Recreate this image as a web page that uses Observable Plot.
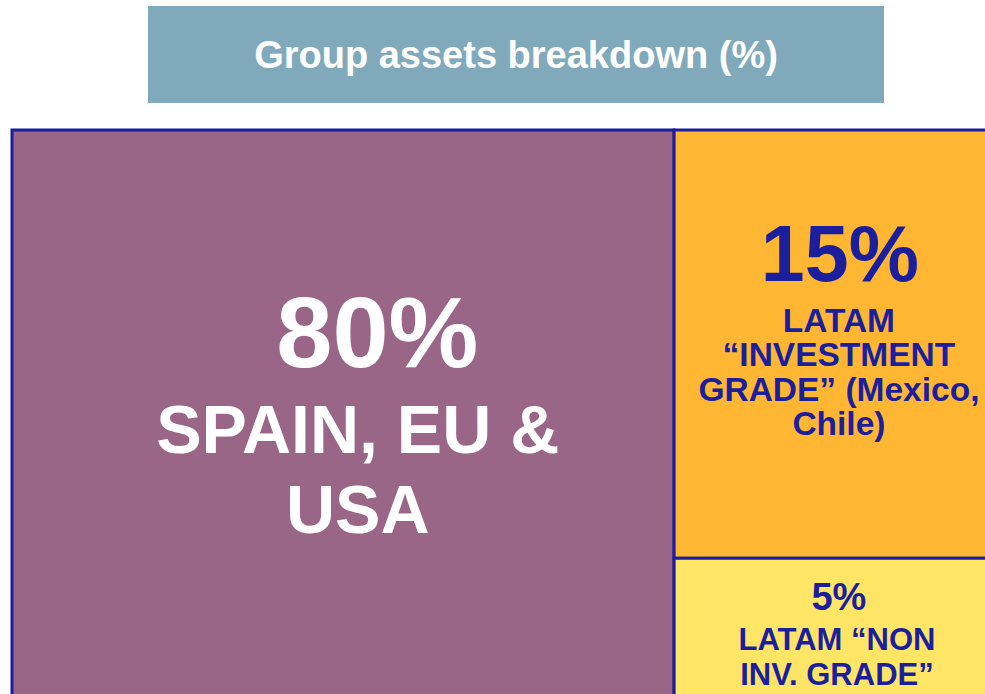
<!DOCTYPE html>
<html>
<head>
<meta charset="utf-8">
<script src="https://cdn.jsdelivr.net/npm/d3@7"></script>
<script src="https://cdn.jsdelivr.net/npm/@observablehq/plot@0.6"></script>
<style>
  html, body { margin: 0; padding: 0; background: #fff; overflow: hidden; width: 985px; height: 694px; }
  #title {
    margin: 6px 0 0 148px; width: 736px; height: 97px; line-height: 99px;
    background: #80AABC; color: #fff; text-align: center;
    font-family: "Liberation Sans", Arial, sans-serif; font-weight: bold; font-size: 38px;
  }
  #chart svg { display: block; overflow: visible; max-width: none !important; width: 1000px !important; height: 600px !important; }
</style>
</head>
<body>
<div id="title">Group assets breakdown (%)</div>
<div id="chart"></div>
<script>
// Segments and shares (%)
const segments = ["SPAIN, EU & USA", "LATAM \u201CINVESTMENT GRADE\u201D (Mexico, Chile)", "LATAM \u201CNON INV. GRADE\u201D"];
const shares = [80, 15, 5];
const colors = ["#996688", "#FFB733", "#FFE566"];
const textColors = ["#FFFFFF", "#1B1F9E", "#1B1F9E"];

// Tile layout in layout units (0-100 both axes)
const tileX1 = [0, 67.7, 67.7];
const tileX2 = [67.7, 100, 100];
const tileY1 = [0, 0, 75];
const tileY2 = [100, 75, 100];

// Label lines per segment
const pctLabels = shares.map(d => d + "%");
const nameLabels = ["SPAIN, EU &\nUSA", "LATAM\n\u201CINVESTMENT\nGRADE\u201D (Mexico,\nChile)", "LATAM \u201CNON\nINV. GRADE\u201D"];
// label anchors in layout units (baseline of last line)
const pctX = [37.3, 84.6, 84.5];
const pctY = [41.5, 26.4, 84.0];
const pctSize = [101, 79, 38];
const nameX = [35.3, 84.5, 84.3];
const nameY = [70.5, 53.3, 97.1];
const nameSize = [68, 33.5, 31];
const nameLH = [80 / 68, 34.2 / 33.5, 35 / 31];

const tiles = segments.map((s, i) => ({
  segment: s, share: shares[i], x1: tileX1[i], x2: tileX2[i], y1: tileY1[i], y2: tileY2[i],
  fill: colors[i], ink: textColors[i],
  pct: pctLabels[i], px: pctX[i], py: pctY[i], ps: pctSize[i],
  name: nameLabels[i], nx: nameX[i], ny: nameY[i], ns: nameSize[i], lh: nameLH[i]
}));

const font = "Liberation Sans, Arial, sans-serif";
const marks = [
  Plot.rect(tiles, {x1: "x1", x2: "x2", y1: "y1", y2: "y2", fill: "fill", stroke: "#1B1F9E", strokeWidth: 3})
];
tiles.forEach(t => {
  marks.push(Plot.text([t], {x: "px", y: "py", text: "pct", fill: "ink", fontSize: t.ps, fontWeight: "bold",
    fontFamily: font, lineAnchor: "bottom", textAnchor: "middle"}));
  marks.push(Plot.text([t], {x: "nx", y: "ny", text: "name", fill: "ink", fontSize: t.ns, fontWeight: "bold",
    fontFamily: font, lineAnchor: "bottom", textAnchor: "middle", lineHeight: t.lh}));
});

const chart = Plot.plot({
  width: 1000,
  height: 600,
  marginTop: 27,
  marginLeft: 12,
  marginRight: 10,
  marginBottom: 2,
  x: {domain: [0, 100], axis: null},
  y: {domain: [0, 100], reverse: true, axis: null},
  style: {background: "transparent", fontFamily: font, maxWidth: "none"},
  marks
});
document.getElementById("chart").appendChild(chart);
</script>
</body>
</html>
